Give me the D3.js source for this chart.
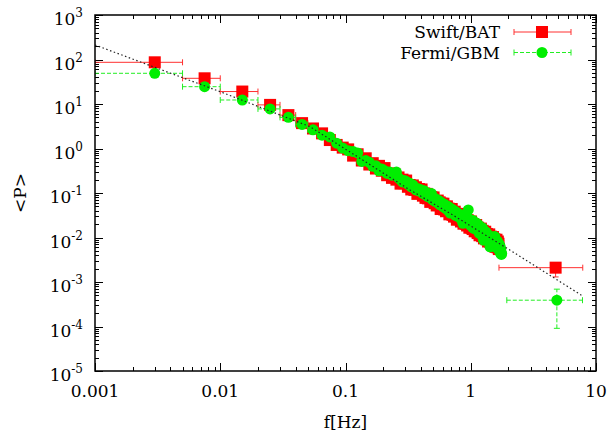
<!DOCTYPE html>
<html>
<head>
<meta charset="utf-8">
<script src="https://cdn.jsdelivr.net/npm/d3@7"></script>
<style>
  body { margin: 0; background: #fff; }
  svg text { font-family: "DejaVu Serif", serif; fill: #000; }
</style>
</head>
<body>
<svg id="chart" width="609" height="438"></svg>
<script>
// ---- data ----
// first two wide bins, below 0.01 Hz
const lowFreq = [0.003, 0.0075];
const lowBinLo = [0.001, 0.005];
const lowBinHi = [0.005, 0.01];
const swiftLowP = [86.5, 37.8];
const fermiLowP = [49, 24.5];

// regular 0.01 Hz bins from 0.01 Hz on, log10 of the averaged power
const binWidth = 0.01;
const swiftLogP = [
  1.28, 0.98, 0.75, 0.57, 0.45, 0.34, 0.19, 0.08, 0.02,
  -0.02, -0.16, -0.13, -0.27, -0.22, -0.36, -0.33, -0.45, -0.39, -0.50,
  -0.44, -0.60, -0.56, -0.66, -0.57, -0.70, -0.65, -0.79, -0.70, -0.78,
  -0.72, -0.86, -0.82, -0.92, -0.83, -0.93, -0.87, -1.02, -0.91, -0.99,
  -0.92, -1.06, -1.01, -1.11, -1.02, -1.12, -1.06, -1.20, -1.09, -1.17,
  -1.10, -1.23, -1.18, -1.28, -1.17, -1.27, -1.21, -1.36, -1.24, -1.31,
  -1.24, -1.37, -1.31, -1.41, -1.30, -1.40, -1.35, -1.48, -1.37, -1.44,
  -1.36, -1.49, -1.44, -1.53, -1.42, -1.52, -1.47, -1.60, -1.48, -1.55,
  -1.47, -1.59, -1.55, -1.64, -1.52, -1.62, -1.57, -1.69, -1.58, -1.66,
  -1.56, -1.69, -1.64, -1.73, -1.61, -1.71, -1.66, -1.78, -1.67, -1.74,
  -1.64, -1.78, -1.73, -1.81, -1.70, -1.79, -1.74, -1.86, -1.75, -1.83,
  -1.72, -1.86, -1.81, -1.90, -1.78, -1.87, -1.82, -1.95, -1.83, -1.90,
  -1.80, -1.93, -1.88, -1.97, -1.85, -1.94, -1.89, -2.02, -1.90, -1.97,
  -1.87, -2.00, -1.95, -2.04, -1.92, -2.01, -1.96, -2.09, -1.97, -2.03,
  -1.93, -2.06, -2.01, -2.10, -1.98, -2.07, -2.02, -2.15, -2.03, -2.09,
  -1.99, -2.12, -2.07, -2.16, -2.04, -2.13, -2.08, -2.21, -2.09, -2.15,
  -2.05, -2.18, -2.13, -2.22, -2.09, -2.19, -2.14, -2.26
];
const fermiLogP = [
  1.09, 0.89, 0.70, 0.54, 0.42, 0.30, 0.26, 0.12, 0.01,
  -0.05, -0.07, -0.10, -0.29, -0.27, -0.31, -0.40, -0.39, -0.50, -0.46,
  -0.50, -0.56, -0.53, -0.60, -0.57, -0.53, -0.66, -0.70, -0.75, -0.72,
  -0.74, -0.80, -0.78, -0.86, -0.82, -0.88, -0.93, -0.90, -0.95, -0.92,
  -0.97, -1.01, -0.95, -1.04, -1.00, -1.08, -1.03, -1.10, -1.01, -1.15,
  -1.12, -1.18, -1.13, -1.16, -1.22, -1.17, -1.26, -1.20, -1.28, -1.24,
  -1.31, -1.25, -1.34, -1.29, -1.36, -1.30, -1.40, -1.33, -1.45, -1.37,
  -1.36, -1.44, -1.39, -1.47, -1.41, -1.50, -1.43, -1.49, -1.46, -1.53,
  -1.47, -1.55, -1.50, -1.58, -1.52, -1.61, -1.68, -1.56, -1.62, -1.57,
  -1.63, -1.58, -1.66, -1.60, -1.55, -1.38, -1.64, -1.70, -1.62, -1.72,
  -1.66, -1.74, -1.69, -1.77, -1.62, -1.73, -1.80, -1.71, -1.78, -1.69,
  -1.74, -1.68, -1.82, -1.76, -1.85, -1.72, -1.90, -1.79, -1.84, -1.88,
  -1.81, -1.93, -1.86, -1.78, -1.97, -1.89, -2.06, -1.92, -1.85, -1.99,
  -1.94, -2.02, -1.88, -1.96, -2.05, -1.93, -1.99, -2.08, -1.95, -2.01,
  -2.04, -2.10, -2.21, -1.98, -2.07, -2.12, -2.02, -2.15, -2.09, -2.05,
  -2.11, -2.03, -2.17, -2.08, -2.00, -1.98, -2.14, -2.20, -2.10, -2.16,
  -2.13, -2.22, -2.08, -2.18, -2.25, -2.12, -2.19, -2.28, -2.15, -2.23,
  -2.30, -2.20, -2.35, -2.26, -2.32, -2.38, -2.36
];

// last wide bin of each instrument
const swiftLast = { f: 4.76, lo: 1.68, hi: 7.84, p: 2.1e-3, pLo: 1.3e-3, pHi: 2.6e-3 };
const fermiLast = { f: 4.87, lo: 1.94, hi: 7.8, p: 3.9e-4, pLo: 9.1e-5, pHi: 6.9e-4 };

// dotted model curve, points read along it
const fitF = [0.001, 0.00477, 0.01, 0.052, 0.327, 0.683, 2.06, 7.83];
const fitP = [212, 41, 18.9, 3.1, 0.117, 0.035, 0.0052, 4.84e-4];

const xTicks = [0.001, 0.01, 0.1, 1, 10];
const xTickLabels = ["0.001", "0.01", "0.1", "1", "10"];
const yExps = [-5, -4, -3, -2, -1, 0, 1, 2, 3];

// ---- build point lists ----
function makePoints(lowP, logP, last) {
  const pts = lowFreq.map((f, i) => ({ f: f, lo: lowBinLo[i], hi: lowBinHi[i], p: lowP[i] }));
  logP.forEach((v, i) => {
    const f = 0.015 + i * binWidth;
    pts.push({ f: f, lo: f - binWidth / 2, hi: f + binWidth / 2, p: Math.pow(10, v) });
  });
  pts.push(last);
  return pts;
}
const swift = makePoints(swiftLowP, swiftLogP, swiftLast);
const fermi = makePoints(fermiLowP, fermiLogP, fermiLast);

// ---- layout ----
const pLeft = 95, pRight = 596, pTop = 15, pBottom = 371;
const serif = '"DejaVu Serif", serif';
const fs = "17px";
const svg = d3.select("#chart");

const x = d3.scaleLog().domain([0.001, 10]).range([pLeft, pRight]);
const y = d3.scaleLog().domain([1e-5, 1e3]).range([pBottom, pTop]);

svg.append("defs").append("clipPath").attr("id", "plot-clip")
  .append("rect").attr("x", pLeft).attr("y", pTop)
  .attr("width", pRight - pLeft).attr("height", pBottom - pTop);

// ---- ticks (mirrored, inward) ----
const tickG = svg.append("g").attr("stroke", "#000").attr("stroke-width", 1);
const xMinor = [];
for (let e = -3; e < 1; e++) for (let m = 2; m <= 9; m++) xMinor.push(m * Math.pow(10, e));
const yMinor = [];
for (let e = -5; e < 3; e++) for (let m = 2; m <= 9; m++) yMinor.push(m * Math.pow(10, e));

xTicks.forEach(t => {
  const px = Math.round(x(t)) + 0.5;
  tickG.append("line").attr("x1", px).attr("x2", px).attr("y1", pBottom).attr("y2", pBottom - 8);
  tickG.append("line").attr("x1", px).attr("x2", px).attr("y1", pTop).attr("y2", pTop + 8);
});
xMinor.forEach(t => {
  const px = Math.round(x(t)) + 0.5;
  tickG.append("line").attr("x1", px).attr("x2", px).attr("y1", pBottom).attr("y2", pBottom - 4);
  tickG.append("line").attr("x1", px).attr("x2", px).attr("y1", pTop).attr("y2", pTop + 4);
});
yExps.forEach(e => {
  const py = Math.round(y(Math.pow(10, e))) + 0.5;
  tickG.append("line").attr("x1", pLeft).attr("x2", pLeft + 8).attr("y1", py).attr("y2", py);
  tickG.append("line").attr("x1", pRight).attr("x2", pRight - 8).attr("y1", py).attr("y2", py);
});
yMinor.forEach(t => {
  const py = Math.round(y(t)) + 0.5;
  tickG.append("line").attr("x1", pLeft).attr("x2", pLeft + 4).attr("y1", py).attr("y2", py);
  tickG.append("line").attr("x1", pRight).attr("x2", pRight - 4).attr("y1", py).attr("y2", py);
});

// tick labels
svg.append("g").selectAll("text").data(xTicks).join("text")
  .attr("x", d => x(d)).attr("y", pBottom + 26)
  .attr("text-anchor", "middle").attr("font-family", serif).style("font-size", fs)
  .text((d, i) => xTickLabels[i]);

const yLab = svg.append("g").selectAll("text").data(yExps).join("text")
  .attr("x", 83).attr("y", d => y(Math.pow(10, d)) + 10)
  .attr("text-anchor", "end").attr("font-family", serif).style("font-size", fs);
yLab.append("tspan").text("10");
yLab.append("tspan").attr("dy", -8).style("font-size", "12px").text(d => d);

// axis titles
svg.append("text").attr("x", (pLeft + pRight) / 2).attr("y", 428)
  .attr("text-anchor", "middle").attr("font-family", serif).style("font-size", fs).text("f[Hz]");
svg.append("text").attr("transform", `translate(26,${(pTop + pBottom) / 2}) rotate(-90)`)
  .attr("text-anchor", "middle").attr("font-family", serif).style("font-size", fs).text("<P>");

// ---- series ----
const plot = svg.append("g").attr("clip-path", "url(#plot-clip)");

function drawErrors(g, pts, color, dash) {
  const eg = g.append("g").attr("stroke", color).attr("stroke-width", 1).attr("fill", "none");
  pts.forEach(d => {
    const py = y(d.p);
    eg.append("line").attr("x1", x(d.lo)).attr("x2", x(d.hi)).attr("y1", py).attr("y2", py)
      .attr("stroke-dasharray", dash);
    eg.append("line").attr("x1", x(d.lo)).attr("x2", x(d.lo)).attr("y1", py - 3).attr("y2", py + 3);
    eg.append("line").attr("x1", x(d.hi)).attr("x2", x(d.hi)).attr("y1", py - 3).attr("y2", py + 3);
    if (d.pLo) {
      const px = x(d.f);
      eg.append("line").attr("x1", px).attr("x2", px).attr("y1", y(d.pLo)).attr("y2", y(d.pHi))
        .attr("stroke-dasharray", dash);
      [d.pLo, d.pHi].forEach(v => {
        eg.append("line").attr("x1", px - 3).attr("x2", px + 3).attr("y1", y(v)).attr("y2", y(v));
      });
    }
  });
}

drawErrors(plot, swift, "#ff3030", null);
plot.append("g").selectAll("rect").data(swift).join("rect")
  .attr("x", d => x(d.f) - 6).attr("y", d => y(d.p) - 6)
  .attr("width", 12).attr("height", 12).attr("fill", "#ff0000");

drawErrors(plot, fermi, "#22ee22", "4,2");
plot.append("g").selectAll("circle").data(fermi).join("circle")
  .attr("cx", d => x(d.f)).attr("cy", d => y(d.p)).attr("r", 5.5)
  .attr("fill", "#00ee00");

// dotted model curve
const fit = fitF.map((f, i) => ({ f: f, p: fitP[i] }));
plot.append("path").datum(fit)
  .attr("d", d3.line().x(d => x(d.f)).y(d => y(d.p)))
  .attr("fill", "none").attr("stroke", "#222").attr("stroke-width", 1.2)
  .attr("stroke-dasharray", "1.5,2.5");

// frame
svg.append("rect").attr("x", pLeft).attr("y", pTop)
  .attr("width", pRight - pLeft).attr("height", pBottom - pTop)
  .attr("fill", "none").attr("stroke", "#000").attr("stroke-width", 1.5);

// ---- legend ----
const legend = [
  { name: "Swift/BAT", color: "#ff0000", line: "#ff3030", dash: null, shape: "square", yy: 32 },
  { name: "Fermi/GBM", color: "#00ee00", line: "#22ee22", dash: "4,2", shape: "circle", yy: 52.5 }
];
legend.forEach(l => {
  const g = svg.append("g");
  g.append("text").attr("x", 500).attr("y", l.yy + 6).attr("text-anchor", "end")
    .attr("font-family", serif).style("font-size", fs).text(l.name);
  const lg = g.append("g").attr("stroke", l.line).attr("stroke-width", 1);
  lg.append("line").attr("x1", 514).attr("x2", 571).attr("y1", l.yy).attr("y2", l.yy)
    .attr("stroke-dasharray", l.dash);
  lg.append("line").attr("x1", 514).attr("x2", 514).attr("y1", l.yy - 3).attr("y2", l.yy + 3);
  lg.append("line").attr("x1", 571).attr("x2", 571).attr("y1", l.yy - 3).attr("y2", l.yy + 3);
  if (l.shape === "square") {
    g.append("rect").attr("x", 536).attr("y", l.yy - 6).attr("width", 12).attr("height", 12)
      .attr("fill", l.color);
  } else {
    g.append("circle").attr("cx", 542).attr("cy", l.yy).attr("r", 5.5).attr("fill", l.color);
  }
});
</script>
</body>
</html>
